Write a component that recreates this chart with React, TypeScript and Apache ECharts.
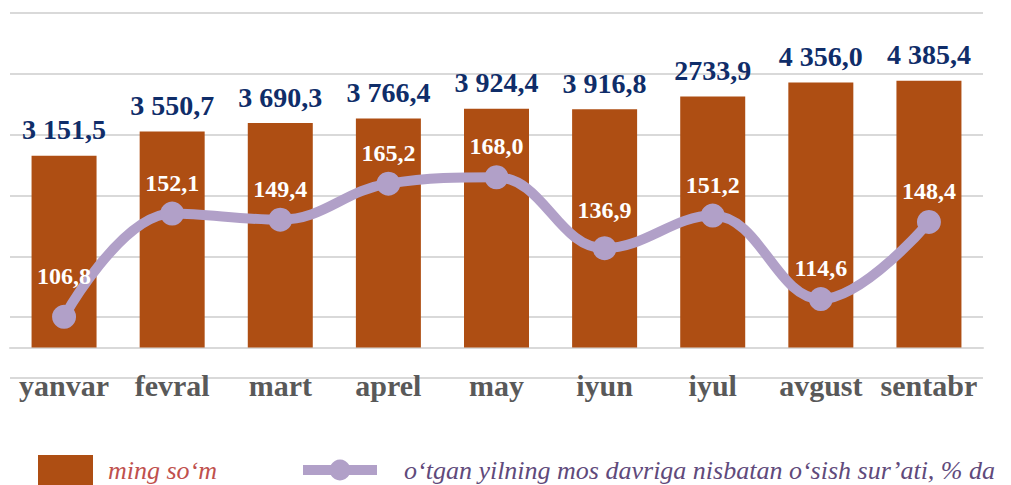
import React, { useEffect, useRef } from "react";
import * as echarts from "echarts";

const months = ["yanvar", "fevral", "mart", "aprel", "may", "iyun", "iyul", "avgust", "sentabr"];
const barValues = [3151.5, 3550.7, 3690.3, 3766.4, 3924.4, 3916.8, 4126, 4356.0, 4385.4];
const barLabels = ["3 151,5", "3 550,7", "3 690,3", "3 766,4", "3 924,4", "3 916,8", "2733,9", "4 356,0", "4 385,4"];
const growthValues = [106.8, 152.1, 149.4, 165.2, 168.0, 136.9, 151.2, 114.6, 148.4];
const barName = "ming so\u2018m";
const lineName = "o\u2018tgan yilning mos davriga nisbatan o\u2018sish sur\u2019ati, % da";

const SERIF = "Liberation Serif";

export default function App() {
  const ref = useRef<HTMLDivElement>(null);
  useEffect(() => {
    if (!ref.current) return;
    const chart = echarts.init(ref.current, null, { renderer: "svg" });
    const lineOffsets: Record<number, number[]> = { 0: [0, -10], 5: [0, -7] };
    chart.setOption({
      animation: false,
      grid: { left: 10, right: 28, top: 13, bottom: 107, containLabel: false },
      legend: [
        {
          data: [{ name: barName, icon: "rect" }],
          left: 33,
          top: 450,
          itemWidth: 55,
          itemHeight: 30,
          textStyle: {
            fontFamily: SERIF,
            fontStyle: "italic",
            fontSize: 26,
            color: "#C0504D",
            padding: [0, 0, 0, 10],
          },
        },
        {
          data: [{ name: lineName, lineStyle: { width: 10, color: "#B1A0C8" } }],
          left: 293,
          top: 452,
          itemWidth: 74,
          itemHeight: 26,
          textStyle: {
            fontFamily: SERIF,
            fontStyle: "italic",
            fontSize: 26,
            color: "#604A7B",
            padding: [0, 0, 0, 22],
          },
        },
      ],
      xAxis: {
        type: "category",
        data: months,
        axisLine: { onZero: true, onZeroAxisIndex: 0, lineStyle: { color: "#D9D9D9", width: 2 } },
        axisTick: { show: false },
        axisLabel: {
          interval: 0,
          margin: -8,
          fontFamily: SERIF,
          fontWeight: "bold",
          fontSize: 30,
          color: "#595959",
        },
      },
      yAxis: [
        { type: "value", min: -500, max: 5500, show: false, splitLine: { show: false } },
        { type: "value", min: 80, max: 240, show: false, splitLine: { show: false } },
        {
          type: "value",
          min: 0,
          max: 6,
          interval: 1,
          axisLine: { show: false },
          axisLabel: { show: false },
          axisTick: { show: false },
          splitLine: { show: true, lineStyle: { color: "#D9D9D9", width: 2 } },
        },
      ],
      series: [
        {
          name: barName,
          type: "bar",
          yAxisIndex: 0,
          data: barValues,
          barWidth: 65,
          itemStyle: { color: "#AE4E13" },
          label: {
            show: true,
            position: "top",
            distance: 12,
            fontFamily: SERIF,
            fontWeight: "bold",
            fontSize: 28,
            color: "#0F2D69",
            formatter: (p: any) => barLabels[p.dataIndex],
          },
          z: 2,
        },
        {
          name: lineName,
          type: "line",
          yAxisIndex: 1,
          data: growthValues.map((v, i) => ({
            value: v,
            label: lineOffsets[i] ? { offset: lineOffsets[i] } : undefined,
          })),
          smooth: 0.4,
          symbol: "circle",
          symbolSize: 24,
          lineStyle: { color: "#B1A0C8", width: 10 },
          itemStyle: { color: "#B1A0C8" },
          label: {
            show: true,
            position: "top",
            distance: 7,
            fontFamily: SERIF,
            fontWeight: "bold",
            fontSize: 24,
            color: "#FFFFFF",
            formatter: (p: any) => Number(p.value).toFixed(1).replace(".", ","),
          },
          z: 3,
        },
      ],
    });
    return () => chart.dispose();
  }, []);
  return (
    <div
      ref={ref}
      style={{ position: "fixed", left: 0, top: 0, width: 1011, height: 485, background: "#fff" }}
    />
  );
}
